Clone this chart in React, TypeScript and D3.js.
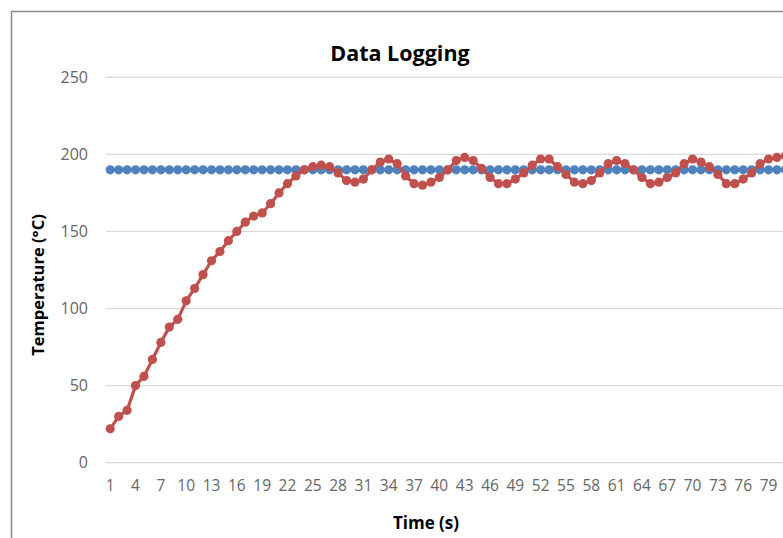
import * as d3 from 'd3';

const W = 783, H = 538;
const PLOT_L = 106, STEP = 8.44, Y0 = 462.7, Y250 = 77.3;

// time index (s)
const times = d3.range(1, 83);
const xTickLabels = d3.range(1, 80, 3);
const yTicks = [0, 50, 100, 150, 200, 250];

const setpoint = [
  190, 190, 190, 190, 190, 190, 190, 190, 190, 190,
  190, 190, 190, 190, 190, 190, 190, 190, 190, 190,
  190, 190, 190, 190, 190, 190, 190, 190, 190, 190,
  190, 190, 190, 190, 190, 190, 190, 190, 190, 190,
  190, 190, 190, 190, 190, 190, 190, 190, 190, 190,
  190, 190, 190, 190, 190, 190, 190, 190, 190, 190,
  190, 190, 190, 190, 190, 190, 190, 190, 190, 190,
  190, 190, 190, 190, 190, 190, 190, 190, 190, 190,
  190, 190,
];

const measured = [
  22, 30, 34, 50, 56, 67, 78, 88, 93, 105,
  113, 122, 131, 137, 144, 150, 156, 160, 162, 168,
  175, 181, 186, 190, 192, 193, 192, 188, 183, 182,
  184, 190, 195, 197, 194, 186, 181, 180, 182, 185,
  190, 196, 198, 196, 191, 185, 181, 181, 184, 188,
  193, 197, 197, 192, 187, 182, 181, 183, 188, 194,
  196, 194, 190, 185, 181, 182, 185, 188, 194, 197,
  195, 192, 187, 181, 181, 184, 188, 194, 197, 198,
  199, 199,
];

const series = [
  { name: 'Setpoint', values: setpoint, color: '#4F81BD' },
  { name: 'Measured', values: measured, color: '#C0504D' },
];

export default function App() {
  const x = d3.scalePoint<number>()
    .domain(times)
    .range([PLOT_L, PLOT_L + times.length * STEP])
    .padding(0.5);
  const y = d3.scaleLinear().domain([0, 250]).range([Y0, Y250]);
  const line = d3.line<number>()
    .x((_, i) => x(times[i])!)
    .y((d) => y(d));

  const font = '"Open Sans", sans-serif';

  return (
    <div style={{ position: 'absolute', left: 0, top: 0, width: W, height: H, overflow: 'hidden', background: '#fff' }}>
      <svg width={W} height={H} style={{ display: 'block' }} fontFamily={font}>
        <rect x={0} y={0} width={W} height={H} fill="#fff" />
        {/* chart border */}
        <path d={`M11.5,${H + 5} V11.5 H${W + 5}`} fill="none" stroke="#8a8a8a" strokeWidth={1.5} />

        {/* gridlines */}
        {yTicks.map((t) => (
          <line key={t} x1={PLOT_L} x2={W + 10} y1={y(t)} y2={y(t)} stroke="#d9d9d9" strokeWidth={1.3} />
        ))}

        {/* y tick labels */}
        {yTicks.map((t) => (
          <text key={t} x={88} y={y(t) + 5.5} textAnchor="end" fontSize={16} fill="#666">{t}</text>
        ))}

        {/* x tick labels */}
        {xTickLabels.map((t) => (
          <text key={t} x={x(t)!} y={491} textAnchor="middle" fontSize={15.5} fill="#666">{t}</text>
        ))}

        {/* series */}
        {series.map((s) => (
          <g key={s.name}>
            <path d={line(s.values)!} fill="none" stroke={s.color} strokeWidth={3.2} />
            {s.values.map((v, i) => (
              <circle key={i} cx={x(times[i])!} cy={y(v)} r={4.6} fill={s.color} />
            ))}
          </g>
        ))}

        {/* titles */}
        <text x={400} y={61} textAnchor="middle" fontSize={21.5} fontWeight={700} fill="#000">Data Logging</text>
        <text x={426} y={529} textAnchor="middle" fontSize={17} fontWeight={700} fill="#000">Time (s)</text>
        <text transform="translate(44,285) rotate(-90)" textAnchor="middle" fontSize={16.5} fontWeight={700} fill="#000">Temperature (°C)</text>
      </svg>
    </div>
  );
}
